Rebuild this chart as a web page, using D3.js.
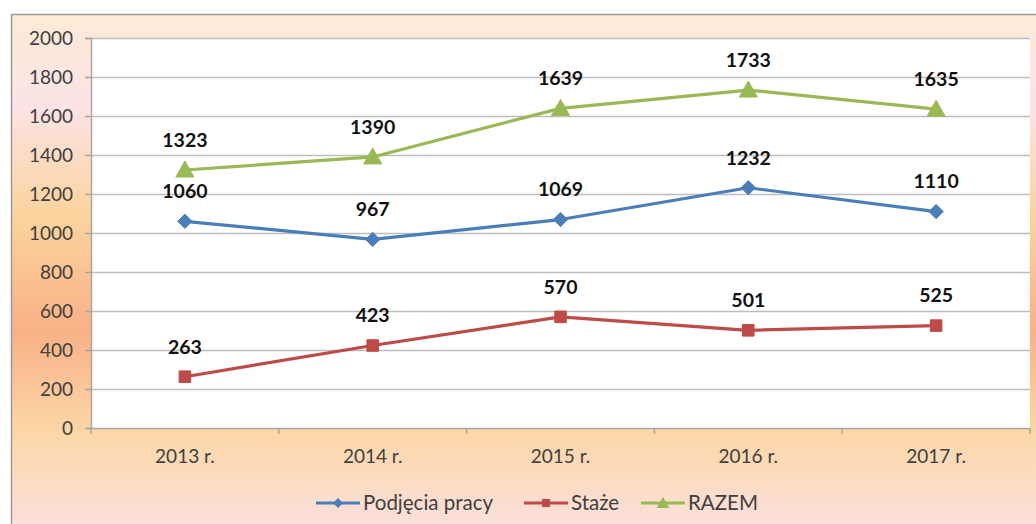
<!DOCTYPE html>
<html>
<head>
<meta charset="utf-8">
<script src="https://cdn.jsdelivr.net/npm/d3@7"></script>
<style>
  html, body { margin: 0; padding: 0; background: #fff; }
  svg { display: block; }
</style>
</head>
<body>
<div id="chart"></div>
<script>
// chart data
const years = ["2013 r.", "2014 r.", "2015 r.", "2016 r.", "2017 r."];
const podjecia = [1060, 967, 1069, 1232, 1110];
const staze = [263, 423, 570, 501, 525];
const razem = [1323, 1390, 1639, 1733, 1635];
const yTicks = [0, 200, 400, 600, 800, 1000, 1200, 1400, 1600, 1800, 2000];

const series = [
    { name: "Podjęcia pracy", values: podjecia, color: "#4a7ebb", marker: "diamond" },
    { name: "Staże", values: staze, color: "#be4b48", marker: "square" },
    { name: "RAZEM", values: razem, color: "#98b954", marker: "triangle" }
];

const width = 1036, height = 524;
const plot = { left: 91, right: 1030, top: 38, bottom: 428 };
const font = "Lato, 'Open Sans', sans-serif";

const svg = d3.select("#chart").append("svg")
    .attr("width", width)
    .attr("height", height);

// background gradient like the office chart area
const defs = svg.append("defs");
const grad = defs.append("linearGradient")
    .attr("id", "bg").attr("x1", 0).attr("y1", 0).attr("x2", 0).attr("y2", 1);
[[0, "#fdebd6"], [0.18, "#fce3e6"], [0.4, "#fbd39c"], [0.62, "#f9b187"], [0.82, "#fcd7a6"], [1, "#fbe0dc"]]
    .forEach(([o, c]) => grad.append("stop").attr("offset", o).attr("stop-color", c));

svg.append("rect")
    .attr("x", 11).attr("y", 14)
    .attr("width", width - 11).attr("height", height - 14)
    .attr("fill", "url(#bg)");
svg.append("path")
    .attr("d", `M11.5,${height} V14.5 H${width}`)
    .attr("fill", "none")
    .attr("stroke", "#9a9a9a")
    .attr("stroke-width", 1.5);

// plot area
svg.append("rect")
    .attr("x", plot.left).attr("y", plot.top)
    .attr("width", plot.right - plot.left).attr("height", plot.bottom - plot.top)
    .attr("fill", "#ffffff");

const x = d3.scaleBand().domain(years).range([plot.left, plot.right]);
const y = d3.scaleLinear().domain([0, 2000]).range([plot.bottom, plot.top]);

// gridlines
svg.append("g")
    .selectAll("line")
    .data(yTicks.filter(t => t > 0))
    .join("line")
    .attr("x1", plot.left).attr("x2", plot.right)
    .attr("y1", d => y(d) + 0.5).attr("y2", d => y(d) + 0.5)
    .attr("stroke", "#bdbdbd")
    .attr("stroke-width", 1.5);

// y axis
const yAxis = svg.append("g")
    .attr("transform", `translate(${plot.left},0)`)
    .call(d3.axisLeft(y).tickValues(yTicks).tickFormat(d3.format("d")).tickSize(6).tickPadding(12));
yAxis.select(".domain").attr("stroke", "#a6a6a6").attr("stroke-width", 1.5);
yAxis.selectAll(".tick line").attr("stroke", "#a6a6a6").attr("stroke-width", 1.5);
yAxis.selectAll("text")
    .attr("font-family", font)
    .attr("font-size", 19)
    .attr("fill", "#404040");

// x axis with ticks at band boundaries
const xAxis = svg.append("g")
    .attr("transform", `translate(0,${plot.bottom})`)
    .call(d3.axisBottom(x).tickSize(0).tickPadding(22));
xAxis.select(".domain").attr("stroke", "#a6a6a6").attr("stroke-width", 1.5);
xAxis.selectAll("text")
    .attr("font-family", font)
    .attr("font-size", 19)
    .attr("fill", "#404040");
xAxis.selectAll(".boundary")
    .data(years.map(d => x(d)).concat([plot.right]))
    .join("line")
    .attr("class", "boundary")
    .attr("x1", d => d).attr("x2", d => d)
    .attr("y1", 0).attr("y2", 6)
    .attr("stroke", "#a6a6a6")
    .attr("stroke-width", 1.5);

const cx = d => x(d) + x.bandwidth() / 2;

function markerPath(type) {
    if (type === "diamond") return d3.symbol(d3.symbolDiamond2, 130)();
    if (type === "square") return d3.symbol(d3.symbolSquare2, 170)();
    return "M0,-9 L9,7 L-9,7 Z";
}

const line = d3.line()
    .x((d, i) => cx(years[i]))
    .y(d => y(d));

series.forEach(s => {
    const g = svg.append("g");
    g.append("path")
        .datum(s.values)
        .attr("d", line)
        .attr("fill", "none")
        .attr("stroke", s.color)
        .attr("stroke-width", 3.2)
        .attr("stroke-linejoin", "round");
    g.selectAll(".marker")
        .data(s.values)
        .join("path")
        .attr("class", "marker")
        .attr("transform", (d, i) => `translate(${cx(years[i])},${y(d)})`)
        .attr("d", markerPath(s.marker))
        .attr("fill", s.color)
        .attr("stroke", s.color)
        .attr("stroke-width", 1);
    g.selectAll(".label")
        .data(s.values)
        .join("text")
        .attr("class", "label")
        .attr("x", (d, i) => cx(years[i]))
        .attr("y", d => y(d) - 30)
        .attr("dy", "0.35em")
        .attr("text-anchor", "middle")
        .attr("font-family", font)
        .attr("font-weight", "bold")
        .attr("font-size", 19.5)
        .attr("fill", "#111")
        .text(d => d);
});

// legend
const legendX = [316, 524, 641];
const legend = svg.append("g").attr("transform", "translate(0,503)");
series.forEach((s, i) => {
    const lg = legend.append("g").attr("transform", `translate(${legendX[i]},0)`);
    lg.append("line")
        .attr("x1", 0).attr("x2", 44)
        .attr("stroke", s.color).attr("stroke-width", 3);
    lg.append("path")
        .attr("transform", "translate(22,0) scale(0.7)")
        .attr("d", markerPath(s.marker))
        .attr("fill", s.color);
    lg.append("text")
        .attr("x", 47)
        .attr("dy", "0.35em")
        .attr("font-family", font)
        .attr("font-size", 20.5)
        .attr("fill", "#404040")
        .text(s.name);
});
</script>
</body>
</html>
